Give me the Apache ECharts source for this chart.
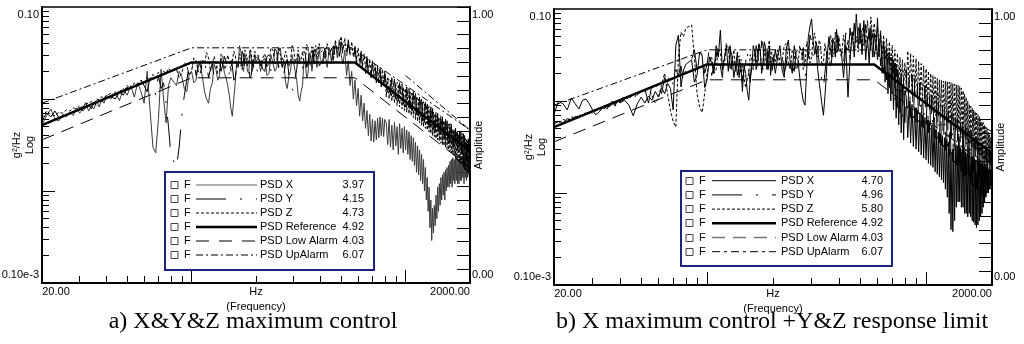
<!DOCTYPE html>
<html><head><meta charset="utf-8">
<script src="https://cdn.jsdelivr.net/npm/echarts@6/dist/echarts.min.js"></script>
<style>html,body{margin:0;padding:0;background:#fff}#c{width:1024px;height:344px}</style>
</head><body><div id="c"></div>
<script>
// ---------------- DATA ----------------
const freq = [20,21,22,23,24,25,26,27,28,29,30,31,32,33,34,35,36,37,38,39,40,
42,44,46,48,50,52,54,56,58,60,62,64,66,68,70,72,74,76,78,80,
85,87.5,90,92.5,95,97.5,100,102.5,105,107.5,110,112.5,115,117.5,120,122.5,125,127.5,130,132.5,
135,137.5,140,142.5,145,147.5,150,152.5,155,157.5,160,162.5,165,167.5,170,172.5,175,177.5,180,182.5,
185,187.5,190,192.5,195,197.5,200,
205,210,215,220,225,230,235,240,245,250,255,260,265,270,275,280,285,290,295,300,
305,310,315,320,325,330,335,340,345,350,355,360,365,370,375,380,385,390,395,400,
410,420,430,440,450,460,470,480,490,500,510,520,530,540,550,560,570,580,590,600,
610,620,630,640,650,660,670,680,690,700,710,720,730,740,750,760,770,780,790,800,
812.5,825,837.5,850,862.5,875,887.5,900,912.5,925,937.5,950,962.5,975,987.5,1000,
1012.5,1025,1037.5,1050,1062.5,1075,1087.5,1100,1112.5,1125,1137.5,1150,1162.5,1175,1187.5,1200,
1212.5,1225,1237.5,1250,1262.5,1275,1287.5,1300,1312.5,1325,1337.5,1350,1362.5,1375,1387.5,1400,
1412.5,1425,1437.5,1450,1462.5,1475,1487.5,1500,1512.5,1525,1537.5,1550,1562.5,1575,1587.5,1600,
1612.5,1625,1637.5,1650,1662.5,1675,1687.5,1700,1712.5,1725,1737.5,1750,1762.5,1775,1787.5,1800,
1812.5,1825,1837.5,1850,1862.5,1875,1887.5,1900,1912.5,1925,1937.5,1950,1962.5,1975,1987.5,2000];

// panel a) X&Y&Z maximum control  (g^2/Hz)
const aX = [0.0052,0.0066,0.0078,0.0060,0.0058,0.0068,0.0064,0.0072,0.0066,0.0080,0.0070,0.0078,0.0092,0.0074,0.0084,0.0078,0.0096,0.0082,0.0098,0.0090,0.0110,
0.0100,0.0120,0.0096,0.0130,0.0110,0.0140,0.0105,0.0150,0.0120,0.0090,0.0200,0.0075,0.0030,0.0026,0.0060,0.0210,0.0100,0.0055,0.0140,0.0170,
0.0140,0.0200,0.0175,0.0130,0.0120,0.0190,0.0200,0.0150,0.0160,0.0260,0.0230,0.0170,0.0120,0.0100,0.0090,0.0130,0.0150,0.0240,0.0210,0.0160,
0.0180,0.0280,0.0240,0.0190,0.0170,0.0140,0.0110,0.0080,0.0065,0.0100,0.0150,0.0250,0.0220,0.0380,0.0330,0.0230,0.0200,0.0300,0.0260,0.0200,
0.0190,0.0320,0.0280,0.0200,0.0210,0.0300,0.0250,
0.0290,0.0200,0.0260,0.0280,0.0180,0.0190,0.0300,0.0310,0.0200,0.0220,0.0340,0.0360,0.0220,0.0250,0.0150,0.0130,0.0180,0.0200,0.0300,0.0290,
0.0200,0.0160,0.0110,0.0095,0.0120,0.0140,0.0260,0.0240,0.0170,0.0190,0.0320,0.0300,0.0200,0.0210,0.0350,0.0330,0.0220,0.0230,0.0340,0.0270,
0.024,0.032,0.022,0.036,0.026,0.030,0.040,0.028,0.044,0.030,0.024,0.034,0.018,0.026,0.014,0.020,0.010,0.016,0.0085,0.013,
0.0065,0.011,0.0058,0.0090,0.0048,0.0075,0.0040,0.0068,0.0035,0.0060,0.0034,0.0058,0.0036,0.0062,0.0038,0.0064,0.0040,0.0062,0.0039,0.0060,
0.0055,0.0032,0.0060,0.0030,0.0052,0.0028,0.0056,0.0031,0.0050,0.0025,0.0054,0.0029,0.0048,0.0026,0.0050,0.0028,
0.0046,0.0025,0.0044,0.0022,0.0040,0.0021,0.0038,0.0019,0.0034,0.0016,0.0031,0.0015,0.0028,0.0013,0.0025,0.0012,
0.0022,0.0010,0.0018,0.0008,0.0014,0.0006,0.0011,0.00040,0.0008,0.00029,0.00065,0.00035,0.0007,0.00042,0.0009,0.0005,
0.0011,0.0006,0.0012,0.0007,0.0014,0.0008,0.0015,0.0009,0.0016,0.0008,0.0017,0.0010,0.0018,0.0011,0.0019,0.0011,
0.0021,0.0012,0.0022,0.0011,0.0023,0.0013,0.0022,0.0012,0.0023,0.0013,0.0024,0.0012,0.0022,0.0012,0.0023,0.0013,
0.0024,0.0013,0.0023,0.0014,0.0025,0.0012,0.0024,0.0014,0.0023,0.0013,0.0025,0.0014,0.0024,0.0015,0.0023,0.0016];
const aY = [0.0058,0.0070,0.0064,0.0074,0.0062,0.0066,0.0072,0.0068,0.0076,0.0070,0.0082,0.0074,0.0080,0.0086,0.0078,0.0092,0.0084,0.0100,0.0090,0.0104,0.0096,
0.0106,0.0100,0.0120,0.0110,0.0135,0.0120,0.0150,0.0125,0.0160,0.0140,0.0120,0.0170,0.0145,0.0110,0.0180,0.0130,0.0150,0.0090,0.0050,0.0025,
0.0018,0.0030,0.0065,0.0110,0.0160,0.0240,0.0210,0.0260,0.0180,0.0220,0.0260,0.0180,0.0200,0.0250,0.0170,0.0210,0.0240,0.0170,0.0190,0.0260,
0.0280,0.0200,0.0210,0.0290,0.0250,0.0180,0.0190,0.0270,0.0230,0.0160,0.0170,0.0240,0.0260,0.0190,0.0220,0.0330,0.0300,0.0210,0.0200,0.0280,
0.0240,0.0170,0.0180,0.0260,0.0270,0.0190,0.0220,
0.0190,0.0260,0.0210,0.0200,0.0290,0.0300,0.0200,0.0230,0.0350,0.0330,0.0220,0.0250,0.0300,0.0190,0.0240,0.0270,0.0180,0.0160,0.0130,0.0120,
0.0170,0.0210,0.0300,0.0280,0.0200,0.0220,0.0330,0.0310,0.0220,0.0250,0.0320,0.0200,0.0260,0.0340,0.0240,0.0260,0.0360,0.0300,0.0230,0.0220,
0.026,0.036,0.025,0.034,0.024,0.038,0.027,0.040,0.029,0.042,0.030,0.040,0.028,0.044,0.030,0.038,0.026,0.036,0.024,0.034,
0.022,0.032,0.021,0.030,0.019,0.028,0.018,0.026,0.017,0.025,0.016,0.024,0.015,0.022,0.014,0.021,0.0135,0.020,0.013,0.019,
0.019,0.0115,0.018,0.011,0.017,0.0105,0.0165,0.0100,0.016,0.0095,0.015,0.0090,0.0145,0.0088,0.014,0.0082,
0.0135,0.0080,0.013,0.0078,0.0125,0.0074,0.012,0.0071,0.0115,0.0068,0.011,0.0065,0.0105,0.0062,0.010,0.0058,
0.0095,0.0056,0.0092,0.0054,0.0088,0.0052,0.0085,0.0050,0.0082,0.0048,0.0079,0.0046,0.0076,0.0045,0.0073,0.0043,
0.0070,0.0042,0.0068,0.0041,0.0066,0.0040,0.0064,0.0038,0.0062,0.0037,0.0060,0.0036,0.0058,0.0035,0.0056,0.0033,
0.0054,0.0032,0.0053,0.0031,0.0051,0.0030,0.0050,0.0029,0.0048,0.0028,0.0047,0.0028,0.0046,0.0027,0.0045,0.0026,
0.0044,0.0026,0.0043,0.0025,0.0042,0.0024,0.0040,0.0023,0.0039,0.0022,0.0038,0.0021,0.0037,0.0020,0.0036,0.0019];
const aZ = [0.0062,0.0074,0.0068,0.0066,0.0072,0.0070,0.0076,0.0074,0.0080,0.0078,0.0084,0.0082,0.0088,0.0090,0.0094,0.0090,0.0100,0.0098,0.0106,0.0102,0.0110,
0.0115,0.0110,0.0125,0.0120,0.0140,0.0130,0.0150,0.0145,0.0160,0.0150,0.0170,0.0160,0.0185,0.0170,0.0195,0.0180,0.0200,0.0190,0.0215,0.0200,
0.0210,0.0170,0.0190,0.0250,0.0230,0.0180,0.0200,0.0280,0.0260,0.0200,0.0190,0.0270,0.0240,0.0320,0.0280,0.0200,0.0210,0.0290,0.0250,0.0190,
0.0200,0.0310,0.0290,0.0210,0.0230,0.0300,0.0260,0.0200,0.0210,0.0330,0.0300,0.0220,0.0240,0.0310,0.0270,0.0210,0.0220,0.0340,0.0300,0.0230,
0.0250,0.0350,0.0320,0.0230,0.0240,0.0330,0.0280,
0.0300,0.0230,0.0280,0.0310,0.0220,0.0250,0.0360,0.0340,0.0240,0.0270,0.0370,0.0300,0.0220,0.0230,0.0330,0.0320,0.0230,0.0260,0.0380,0.0350,
0.0250,0.0280,0.0340,0.0240,0.0270,0.0330,0.0240,0.0270,0.0390,0.0360,0.0260,0.0290,0.0370,0.0260,0.0300,0.0380,0.0270,0.0280,0.0400,0.0320,
0.034,0.028,0.040,0.030,0.036,0.026,0.044,0.032,0.038,0.048,0.034,0.046,0.032,0.040,0.030,0.042,0.029,0.038,0.027,0.036,
0.025,0.033,0.023,0.031,0.022,0.029,0.020,0.027,0.019,0.026,0.018,0.024,0.017,0.023,0.016,0.022,0.015,0.021,0.0145,0.020,
0.0105,0.017,0.010,0.016,0.0095,0.0155,0.0090,0.015,0.0085,0.0145,0.0082,0.014,0.0078,0.0135,0.0075,0.013,
0.0072,0.0125,0.0069,0.012,0.0066,0.0115,0.0063,0.011,0.0060,0.0105,0.0057,0.010,0.0055,0.0096,0.0052,0.0092,
0.0050,0.0088,0.0048,0.0085,0.0046,0.0082,0.0044,0.0078,0.0042,0.0075,0.0040,0.0072,0.0039,0.0069,0.0037,0.0066,
0.0036,0.0064,0.0035,0.0062,0.0033,0.0060,0.0032,0.0058,0.0031,0.0056,0.0030,0.0054,0.0029,0.0052,0.0028,0.0050,
0.0027,0.0049,0.0026,0.0047,0.0025,0.0046,0.0024,0.0045,0.0023,0.0044,0.0022,0.0043,0.0021,0.0042,0.0020,0.0041,
0.0020,0.0040,0.0019,0.0039,0.0018,0.0038,0.0017,0.0037,0.0017,0.0036,0.0016,0.0035,0.0016,0.0034,0.0015,0.0033];

// panel b) X maximum control + Y&Z response limit  (g^2/Hz)
const bX = [0.0072,0.0100,0.0093,0.0080,0.0108,0.0093,0.0082,0.0102,0.0105,0.0093,0.0080,0.0071,0.0075,0.0082,0.0088,0.0082,0.0093,0.0100,0.0088,0.0102,0.0095,
0.0102,0.0090,0.0069,0.0093,0.0110,0.0095,0.0113,0.0102,0.0127,0.0110,0.0140,0.0120,0.0155,0.0138,0.0080,0.0405,0.0520,0.0142,0.0217,0.0250,
0.028,0.016,0.019,0.034,0.031,0.014,0.017,0.030,0.026,0.020,0.040,0.030,0.059,0.022,0.029,0.040,0.021,0.036,0.031,0.018,
0.024,0.034,0.018,0.026,0.0127,0.024,0.020,0.013,0.0102,0.018,0.0225,0.040,0.034,0.022,0.025,0.042,0.036,0.020,0.026,0.044,
0.038,0.022,0.028,0.040,0.019,0.026,0.030,
0.020,0.030,0.040,0.022,0.018,0.036,0.046,0.026,0.020,0.040,0.030,0.028,0.018,0.013,0.010,0.009,0.022,0.050,0.065,0.078,
0.045,0.032,0.036,0.022,0.016,0.012,0.009,0.007,0.011,0.018,0.035,0.050,0.038,0.030,0.048,0.042,0.030,0.060,0.045,0.035,
0.035,0.018,0.040,0.011,0.030,0.055,0.030,0.088,0.040,0.070,0.032,0.075,0.028,0.050,0.025,0.062,0.030,0.055,0.035,0.080,
0.030,0.055,0.020,0.045,0.016,0.038,0.012,0.034,0.010,0.030,0.008,0.026,0.0065,0.022,0.0055,0.018,0.0045,0.015,0.0038,0.013,
0.0110,0.0040,0.0100,0.0035,0.0092,0.0032,0.0085,0.0030,0.0080,0.0028,0.0075,0.0026,0.0070,0.0024,0.0066,0.0023,
0.0062,0.0021,0.0058,0.0020,0.0055,0.0019,0.0052,0.0017,0.0049,0.0016,0.0046,0.0015,0.0044,0.0014,0.0042,0.0013,
0.0040,0.0011,0.0038,0.0009,0.0036,0.0006,0.0030,0.00040,0.0028,0.00038,0.0030,0.00050,0.0032,0.0007,0.0033,0.0008,
0.0032,0.0008,0.0031,0.0007,0.0030,0.0007,0.0029,0.0006,0.0028,0.0006,0.0027,0.00055,0.0026,0.0006,0.0025,0.00055,
0.0025,0.0005,0.0024,0.00048,0.0024,0.00045,0.0023,0.00042,0.0023,0.00045,0.0022,0.0005,0.0022,0.00055,0.0021,0.0006,
0.0021,0.0007,0.0020,0.0008,0.0020,0.0009,0.0019,0.0010,0.0019,0.0011,0.0018,0.0011,0.0018,0.0012,0.0017,0.0012];
const bY = [0.0056,0.0060,0.0058,0.0064,0.0062,0.0068,0.0066,0.0072,0.0070,0.0076,0.0074,0.0080,0.0078,0.0085,0.0082,0.0090,0.0087,0.0095,0.0092,0.0100,0.0098,
0.0105,0.0112,0.0100,0.0125,0.0118,0.0135,0.0095,0.0150,0.0130,0.0165,0.0120,0.0180,0.0160,0.0200,0.0150,0.0220,0.0190,0.0240,0.0160,0.0230,
0.028,0.036,0.022,0.026,0.034,0.020,0.025,0.038,0.019,0.024,0.030,0.044,0.024,0.018,0.036,0.028,0.027,0.040,0.020,0.026,
0.032,0.019,0.024,0.034,0.016,0.022,0.026,0.036,0.021,0.016,0.030,0.024,0.022,0.040,0.035,0.022,0.026,0.045,0.040,0.024,
0.028,0.042,0.022,0.030,0.033,0.020,0.025,
0.036,0.024,0.030,0.034,0.020,0.025,0.040,0.031,0.024,0.021,0.034,0.036,0.022,0.026,0.038,0.018,0.026,0.030,0.052,0.045,
0.030,0.028,0.044,0.036,0.026,0.020,0.016,0.014,0.020,0.028,0.044,0.038,0.024,0.026,0.050,0.046,0.030,0.032,0.052,0.040,
0.045,0.025,0.055,0.030,0.062,0.035,0.070,0.038,0.065,0.042,0.072,0.040,0.068,0.036,0.060,0.032,0.058,0.030,0.055,0.028,
0.050,0.024,0.045,0.020,0.040,0.017,0.036,0.014,0.032,0.012,0.028,0.010,0.025,0.0085,0.022,0.0075,0.020,0.0065,0.018,0.0058,
0.0220,0.0070,0.0205,0.0066,0.0190,0.0062,0.0178,0.0058,0.0166,0.0055,0.0155,0.0052,0.0146,0.0050,0.0138,0.0047,
0.0130,0.0045,0.0123,0.0043,0.0116,0.0041,0.0110,0.0039,0.0104,0.0037,0.0099,0.0035,0.0094,0.0033,0.0090,0.0031,
0.0086,0.0029,0.0082,0.0027,0.0079,0.0025,0.0076,0.0023,0.0073,0.0022,0.0070,0.0021,0.0067,0.0020,0.0064,0.0019,
0.0062,0.0018,0.0059,0.0017,0.0057,0.0016,0.0055,0.0015,0.0053,0.0015,0.0051,0.0014,0.0049,0.0013,0.0047,0.0013,
0.0045,0.0012,0.0044,0.0012,0.0042,0.0011,0.0041,0.0011,0.0039,0.0010,0.0038,0.0010,0.0037,0.00095,0.0035,0.00095,
0.0034,0.0009,0.0033,0.0009,0.0032,0.00095,0.0031,0.0010,0.0030,0.0010,0.0029,0.0011,0.0028,0.0011,0.0027,0.0012];
const bZ = [0.0060,0.0058,0.0063,0.0061,0.0067,0.0065,0.0071,0.0069,0.0075,0.0073,0.0080,0.0077,0.0084,0.0081,0.0089,0.0086,0.0094,0.0091,0.0099,0.0096,0.0104,
0.0110,0.0105,0.0120,0.0115,0.0130,0.0125,0.0140,0.0115,0.0095,0.0110,0.0150,0.0200,0.0120,0.0080,0.0060,0.0052,0.0300,0.0560,0.0500,0.0620,
0.067,0.030,0.012,0.0085,0.0075,0.012,0.020,0.026,0.030,0.020,0.022,0.036,0.033,0.022,0.025,0.042,0.038,0.022,0.027,0.036,
0.021,0.028,0.031,0.020,0.024,0.018,0.014,0.017,0.020,0.032,0.028,0.022,0.036,0.026,0.026,0.040,0.032,0.024,0.022,0.036,
0.030,0.024,0.037,0.046,0.026,0.034,0.032,
0.026,0.036,0.024,0.027,0.040,0.042,0.026,0.022,0.036,0.032,0.022,0.024,0.040,0.034,0.022,0.025,0.044,0.040,0.026,0.030,
0.048,0.055,0.034,0.030,0.046,0.040,0.024,0.026,0.042,0.036,0.026,0.028,0.052,0.048,0.030,0.034,0.056,0.045,0.034,0.050,
0.030,0.052,0.034,0.046,0.028,0.058,0.036,0.050,0.034,0.060,0.040,0.066,0.042,0.075,0.045,0.082,0.048,0.070,0.044,0.064,
0.038,0.058,0.032,0.052,0.028,0.048,0.025,0.044,0.022,0.040,0.020,0.036,0.018,0.033,0.016,0.030,0.015,0.028,0.014,0.026,
0.0150,0.0350,0.0140,0.0330,0.0130,0.0310,0.0120,0.0290,0.0112,0.0270,0.0105,0.0255,0.0098,0.0240,0.0092,0.0225,
0.0086,0.0212,0.0081,0.0200,0.0077,0.0190,0.0074,0.0182,0.0071,0.0176,0.0068,0.0170,0.0066,0.0168,0.0064,0.0165,
0.0062,0.0165,0.0060,0.0162,0.0058,0.0160,0.0056,0.0158,0.0054,0.0155,0.0052,0.0152,0.0050,0.0150,0.0048,0.0148,
0.0046,0.0145,0.0044,0.0138,0.0042,0.0130,0.0041,0.0120,0.0039,0.0110,0.0037,0.0100,0.0035,0.0092,0.0034,0.0088,
0.0032,0.0084,0.0031,0.0080,0.0030,0.0077,0.0029,0.0074,0.0028,0.0071,0.0027,0.0068,0.0026,0.0064,0.0025,0.0060,
0.0024,0.0058,0.0023,0.0055,0.0023,0.0052,0.0022,0.0049,0.0021,0.0046,0.0021,0.0043,0.0020,0.0040,0.0020,0.0037];

// test profile (reference and alarm lines)
const refF = [20,100,580,2000], refV = [0.0052,0.025,0.025,0.0027];
const lowF = [20,100,580,2000], lowV = [0.0036,0.017,0.017,0.0018];
const upF  = [20,100,560,2000], upV  = [0.009,0.036,0.036,0.0046];
const up2F = [1000,2000], up2V = [0.018,0.0046];

// legend texts and RMS values
const legendNames = ['PSD X','PSD Y','PSD Z','PSD Reference','PSD Low Alarm','PSD UpAlarm'];
const rmsA = ['3.97','4.15','4.73','4.92','4.03','6.07'];
const rmsB = ['4.70','4.96','5.80','4.92','4.03','6.07'];
const captions = ['a) X&Y&Z maximum control','b) X maximum control +Y&Z response limit'];

// axis ticks and labels
const xLabelVals = [20,2000], xLabelText = ['20.00','2000.00'];
const yLabelVals = [0.0001,0.1], yLabelText = ['0.10e-3','0.10'];
const ampLabelVals = [0,1], ampLabelText = ['0.00','1.00'];
const xMinor = [30,40,50,60,70,80,90,200,300,400,500,600,700,800,900];
const xMajor = [100,1000];
const yMinor = [0.0002,0.0003,0.0004,0.0005,0.0006,0.0007,0.0008,0.0009,0.002,0.003,0.004,0.005,0.006,0.007,0.008,0.009,0.02,0.03,0.04,0.05,0.06,0.07,0.08,0.09];
const yMajor = [0.001,0.01];
const ampTicks = [0,0.05,0.1,0.15,0.2,0.25,0.3,0.35,0.4,0.45,0.5,0.55,0.6,0.65,0.7,0.75,0.8,0.85,0.9,0.95,1];

// ---------------- CHART ----------------
const FONT = 'Liberation Sans';
const pairs = (fs, vs) => fs.map((f, i) => [f, vs[i]]);
function pick(vals, texts, v, log) {
  let best = 0, bd = Infinity;
  vals.forEach((a, i) => {
    const d = log ? Math.abs(Math.log(v) - Math.log(a)) : Math.abs(v - a);
    if (d < bd) { bd = d; best = i; }
  });
  return texts[best];
}

const panels = [
  { grid:{left:42, top:7, width:428, height:276}, X:aX, Y:aY, Z:aZ, rms:rmsA, xColor:'#3a3a3a', up2:true,
    leg:{x:165, y:172, w:209, h:98, row0:185, step:14, cb:171, f:184, l1:196, l2:257, name:260, val:364},
    samples:[{c:'#666',w:1},{c:'#000',w:1,d:[30,14,2,14]},{c:'#000',w:1,d:[3,2]},{c:'#000',w:2.5},{c:'#000',w:1,d:[13,10]},{c:'#000',w:1,d:[7,3,2,3]}],
    cap:{x:253, y:322} },
  { grid:{left:554, top:9, width:438, height:276}, X:bX, Y:bY, Z:bZ, rms:rmsB, xColor:'#000', up2:false,
    leg:{x:681, y:171, w:211, h:95, row0:180.7, step:14.2, cb:686, f:699, l1:712, l2:776, name:781, val:883},
    samples:[{c:'#000',w:1},{c:'#000',w:1,d:[30,14,2,14]},{c:'#000',w:1,d:[3,2]},{c:'#000',w:2.5},{c:'#777',w:1.5,d:[13,8]},{c:'#000',w:1,d:[8,4,3,4]}],
    cap:{x:772, y:322} }
];

const grids = [], xAxes = [], yAxes = [], series = [], graphics = [];
const axisLineStyle = {color:'#000', width:2};

panels.forEach((p, i) => {
  grids.push(Object.assign({show:true, borderColor:'#000', borderWidth:1.5, backgroundColor:'transparent',
    containLabel:false, outerBoundsMode:'none'}, p.grid));
  xAxes.push({
    gridIndex:i, type:'log', logBase:10, min:20, max:2000, position:'bottom',
    axisLine:{show:true, lineStyle:axisLineStyle},
    axisTick:{show:true, inside:true, length:7, customValues:xMinor, lineStyle:{color:'#000', width:1}},
    minorTick:{show:false}, splitLine:{show:false},
    axisLabel:{show:true, customValues:xLabelVals, margin:3, color:'#000', fontFamily:FONT, fontSize:11, hideOverlap:false,
      formatter:v => { const t = pick(xLabelVals, xLabelText, v, true); return v < 100 ? '{l|' + t + '}' : '{r|' + t + '}'; },
      rich:{ l:{padding:[0,0,0,28], fontSize:11, fontFamily:FONT, color:'#000'}, r:{padding:[0,40,0,0], fontSize:11, fontFamily:FONT, color:'#000'} } },
    name:'{hz|Hz}\n{fq|(Frequency)}', nameLocation:'middle', nameGap:1, nameMoveOverlap:false,
    nameTextStyle:{rich:{ hz:{fontSize:11, lineHeight:15, fontFamily:FONT, color:'#000'}, fq:{fontSize:11, lineHeight:15, fontFamily:FONT, color:'#000'} }}
  });
  xAxes.push({
    gridIndex:i, type:'log', logBase:10, min:20, max:2000, position:'bottom', offset:0,
    axisLine:{show:false}, axisLabel:{show:false}, splitLine:{show:false}, minorTick:{show:false},
    axisTick:{show:true, inside:true, length:13, customValues:xMajor, lineStyle:{color:'#000', width:1}}
  });
  yAxes.push({
    gridIndex:i, type:'log', logBase:10, min:0.0001, max:0.1, position:'left',
    axisLine:{show:true, lineStyle:axisLineStyle},
    axisTick:{show:true, inside:true, length:7, customValues:yMinor, lineStyle:{color:'#000', width:1}},
    minorTick:{show:false}, splitLine:{show:false},
    axisLabel:{show:true, customValues:yLabelVals, margin:3, color:'#000', fontFamily:FONT, fontSize:11, hideOverlap:false,
      formatter:v => { const t = pick(yLabelVals, yLabelText, v, true); return v > 0.01 ? '{t|' + t + '}' : '{b|' + t + '}'; },
      rich:{ t:{padding:[16,0,0,0], fontSize:11, fontFamily:FONT, color:'#000'}, b:{padding:[0,0,16,0], fontSize:11, fontFamily:FONT, color:'#000'} } },
    name:'{a|g²/Hz}\n{b|Log}', nameLocation:'middle', nameGap:6, nameMoveOverlap:false,
    nameTextStyle:{rich:{ a:{fontSize:11, lineHeight:13, fontFamily:FONT, color:'#000'}, b:{fontSize:11, lineHeight:13, fontFamily:FONT, color:'#000'} }}
  });
  yAxes.push({
    gridIndex:i, type:'log', logBase:10, min:0.0001, max:0.1, position:'left', offset:0,
    axisLine:{show:false}, axisLabel:{show:false}, splitLine:{show:false}, minorTick:{show:false},
    axisTick:{show:true, inside:true, length:13, customValues:yMajor, lineStyle:{color:'#000', width:1}}
  });
  yAxes.push({
    gridIndex:i, type:'value', min:0, max:1, position:'right', offset:0,
    axisLine:{show:true, lineStyle:axisLineStyle},
    axisTick:{show:true, inside:true, length:13, customValues:ampTicks, lineStyle:{color:'#000', width:1}},
    splitLine:{show:false}, minorTick:{show:false},
    axisLabel:{show:true, customValues:ampLabelVals, margin:2, color:'#000', fontFamily:FONT, fontSize:11, hideOverlap:false,
      formatter:v => { const t = pick(ampLabelVals, ampLabelText, v, false); return v > 0.5 ? '{t|' + t + '}' : '{b|' + t + '}'; },
      rich:{ t:{padding:[16,0,0,0], fontSize:11, fontFamily:FONT, color:'#000'}, b:{padding:[0,0,16,0], fontSize:11, fontFamily:FONT, color:'#000'} } },
    name:'Amplitude', nameLocation:'middle', nameGap:3, nameMoveOverlap:false,
    nameTextStyle:{fontSize:11, fontFamily:FONT, color:'#000'}
  });

  const xi = 2 * i, yi = 3 * i;
  const line = (name, data, ls, z) => ({
    type:'line', name, xAxisIndex:xi, yAxisIndex:yi, data, symbol:'none', showSymbol:false,
    lineStyle:ls, silent:true, animation:false, z, emphasis:{disabled:true}, clip:true
  });
  series.push(line('PSD X', pairs(freq, p.X), {color:p.xColor, width:1}, 2));
  series.push(line('PSD Y', pairs(freq, p.Y), {color:'#000', width:1, type:[30,14,2,14]}, 3));
  series.push(line('PSD Z', pairs(freq, p.Z), {color:'#000', width:1, type:[3,2]}, 4));
  series.push(line('PSD Reference', pairs(refF, refV), {color:'#000', width:2.5}, 6));
  series.push(line('PSD Low Alarm', pairs(lowF, lowV), {color:'#000', width:1, type:[13,8]}, 5));
  series.push(line('PSD UpAlarm', pairs(upF, upV), {color:'#000', width:1, type:[7,3,2,3]}, 5));
  if (p.up2) series.push(line('PSD UpAlarm 2', pairs(up2F, up2V), {color:'#000', width:1, type:[7,3,2,3]}, 5));

  const L = p.leg;
  const txt = (t, x, y, al) => ({type:'text', x, y, z:101,
    style:{text:t, font:'11px "' + FONT + '"', fill:'#000', textAlign:al, textVerticalAlign:'middle', align:al, verticalAlign:'middle'}});
  graphics.push({type:'rect', z:100, shape:{x:L.x, y:L.y, width:L.w, height:L.h}, style:{fill:'#fff', stroke:'#1a237e', lineWidth:2}});
  legendNames.forEach((nm, k) => {
    const y = L.row0 + k * L.step;
    const s = p.samples[k];
    graphics.push({type:'rect', z:101, shape:{x:L.cb, y:Math.round(y) - 3.5, width:7, height:7}, style:{fill:'#fff', stroke:'#444', lineWidth:1}});
    graphics.push(txt('F', L.f, y, 'left'));
    graphics.push({type:'line', z:101, shape:{x1:L.l1, y1:y, x2:L.l2, y2:y}, style:{stroke:s.c, lineWidth:s.w, lineDash:s.d || null}});
    graphics.push(txt(nm, L.name, y, 'left'));
    graphics.push(txt(p.rms[k], L.val, y, 'right'));
  });
  graphics.push({type:'text', x:p.cap.x, y:p.cap.y, z:101,
    style:{text:captions[i], font:'24px "Liberation Serif"', fill:'#000', textAlign:'center', textVerticalAlign:'middle', align:'center', verticalAlign:'middle'}});
});

const chart = echarts.init(document.getElementById('c'), null, {renderer:'canvas'});
chart.setOption({
  backgroundColor:'#fff', animation:false,
  textStyle:{fontFamily:FONT, color:'#000'},
  grid:grids, xAxis:xAxes, yAxis:yAxes, series, graphic:graphics
});
</script>
</body></html>
